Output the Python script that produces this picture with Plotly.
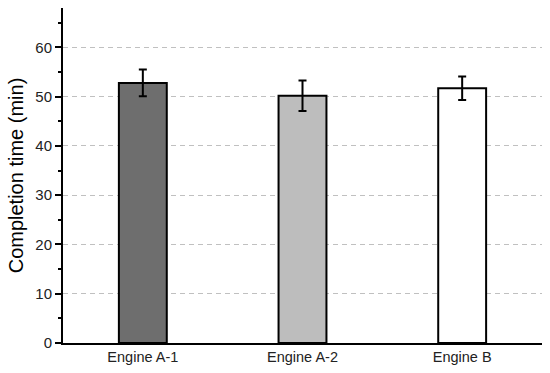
import plotly.graph_objects as go

categories = ["Engine A-1", "Engine A-2", "Engine B"]
values = [52.8, 50.2, 51.7]
errors = [2.7, 3.1, 2.4]
colors = ["#6e6e6e", "#bdbdbd", "#ffffff"]

fig = go.Figure()
fig.add_trace(go.Bar(
    x=categories, y=values,
    width=0.3,
    marker=dict(color=colors, line=dict(color="black", width=2)),
    error_y=dict(type="data", array=errors, visible=True, color="black", thickness=2, width=4),
))

fig.update_layout(
    width=550, height=373,
    margin=dict(l=63, r=8, t=8, b=30),
    paper_bgcolor="white", plot_bgcolor="white",
    font=dict(family="Liberation Sans, Arial, sans-serif", color="#222"),
    showlegend=False,
)
fig.update_xaxes(
    range=[-0.5, 2.5],
    showline=True, linecolor="black", linewidth=2,
    ticks="", showgrid=False,
    tickfont=dict(size=14.5),
)
fig.update_yaxes(
    range=[0, 68], tick0=0, dtick=10,
    showline=True, linecolor="black", linewidth=2,
    ticks="outside", ticklen=6, tickwidth=2, tickcolor="black",
    minor=dict(ticks="outside", ticklen=3, tickwidth=2, tickcolor="black", dtick=5, showgrid=False),
    showgrid=True, gridcolor="#c0c0c0", griddash="5px,4px", gridwidth=1,
    zeroline=False,
    tickfont=dict(size=15),
    title=dict(text="Completion time (min)", font=dict(size=20, color="black"), standoff=6),
    automargin=False,
)

fig.write_html("out.html", config={"displayModeBar": False},
               post_script="document.body.style.margin='0';")
